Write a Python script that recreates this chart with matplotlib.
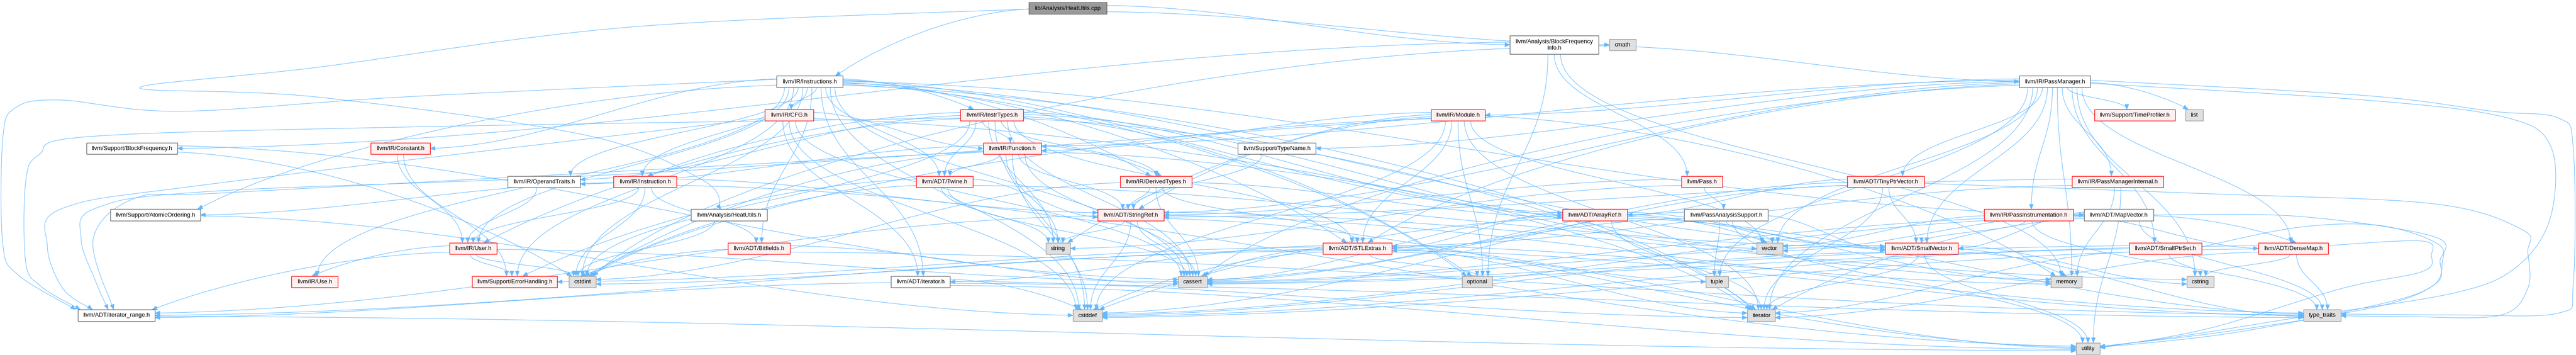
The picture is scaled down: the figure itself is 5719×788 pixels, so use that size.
import matplotlib
matplotlib.use("Agg")
import matplotlib.pyplot as plt
from matplotlib.path import Path
from matplotlib.patches import PathPatch, Rectangle, Polygon
import numpy as np

W, H = 5719, 788

# ---------------- data ----------------
node_ids = ["root", "BFI", "cmath", "Instrs", "PM", "CFG", "InstrTypes", "Module",
            "TimeProf", "list", "BlockFreq", "Constant", "Function", "TypeName",
            "OperandTraits", "Instruction", "Twine", "DerivedTypes", "Pass", "TinyPtr",
            "PMInternal", "Atomic", "HeatUtilsH", "StringRef", "ArrayRef", "PassAnalysis",
            "PassInstr", "MapVector", "User", "Bitfields", "string", "STLExtras", "vector",
            "SmallVector", "SmallPtrSet", "DenseMap", "Use", "ErrorHandling", "cstdint",
            "iteratorH", "cassert", "optional", "tuple", "memory", "cstring", "iter_range",
            "cstddef", "iterator", "type_traits", "utility"]

node_labels = ["lib/Analysis/HeatUtils.cpp", "llvm/Analysis/BlockFrequency\nInfo.h", "cmath",
               "llvm/IR/Instructions.h", "llvm/IR/PassManager.h", "llvm/IR/CFG.h",
               "llvm/IR/InstrTypes.h", "llvm/IR/Module.h", "llvm/Support/TimeProfiler.h", "list",
               "llvm/Support/BlockFrequency.h", "llvm/IR/Constant.h", "llvm/IR/Function.h",
               "llvm/Support/TypeName.h", "llvm/IR/OperandTraits.h", "llvm/IR/Instruction.h",
               "llvm/ADT/Twine.h", "llvm/IR/DerivedTypes.h", "llvm/Pass.h",
               "llvm/ADT/TinyPtrVector.h", "llvm/IR/PassManagerInternal.h",
               "llvm/Support/AtomicOrdering.h", "llvm/Analysis/HeatUtils.h", "llvm/ADT/StringRef.h",
               "llvm/ADT/ArrayRef.h", "llvm/PassAnalysisSupport.h", "llvm/IR/PassInstrumentation.h",
               "llvm/ADT/MapVector.h", "llvm/IR/User.h", "llvm/ADT/Bitfields.h", "string",
               "llvm/ADT/STLExtras.h", "vector", "llvm/ADT/SmallVector.h", "llvm/ADT/SmallPtrSet.h",
               "llvm/ADT/DenseMap.h", "llvm/IR/Use.h", "llvm/Support/ErrorHandling.h", "cstdint",
               "llvm/ADT/iterator.h", "cassert", "optional", "tuple", "memory", "cstring",
               "llvm/ADT/iterator_range.h", "cstddef", "iterator", "type_traits", "utility"]

node_kinds = ["root", "white", "sys", "white", "white", "red", "red", "red", "red", "sys",
              "white", "red", "red", "white", "white", "red", "red", "red", "red", "red",
              "red", "white", "white", "red", "red", "white", "red", "white", "red", "red", "sys",
              "red", "sys", "red", "red", "red", "red", "red", "sys", "white", "sys", "sys", "sys",
              "sys", "sys", "white", "sys", "sys", "sys", "sys"]

includes = {
    "root": ["HeatUtilsH", "BFI", "Instrs", "cmath"],
    "BFI": ["PM", "Pass", "BlockFreq", "cstdint", "memory", "optional"],
    "Instrs": ["ArrayRef", "Bitfields", "MapVector", "STLExtras", "SmallVector", "Twine",
               "iteratorH", "iter_range", "CFG", "Constant", "DerivedTypes", "InstrTypes",
               "Instruction", "OperandTraits", "Use", "User", "Atomic", "ErrorHandling",
               "cassert", "cstddef", "cstdint", "iterator", "optional"],
    "PM": ["DenseMap", "STLExtras", "SmallPtrSet", "SmallVector", "StringRef", "TinyPtr",
           "Function", "Module", "PassInstr", "PMInternal", "TimeProf", "TypeName", "cassert",
           "cstring", "iterator", "list", "memory", "tuple", "type_traits", "utility", "vector"],
    "CFG": ["iteratorH", "iter_range", "Function", "cassert", "cstddef", "iterator"],
    "InstrTypes": ["ArrayRef", "STLExtras", "Twine", "iter_range", "DerivedTypes", "Function",
                   "Instruction", "OperandTraits", "User", "cassert", "cstddef", "cstdint",
                   "iterator", "optional", "string", "vector"],
    "Module": ["STLExtras", "StringRef", "iter_range", "Function", "cstddef", "cstdint",
               "iterator", "memory", "optional", "string", "vector"],
    "BlockFreq": ["cassert", "cstdint"],
    "Constant": ["User", "ErrorHandling"],
    "Function": ["StringRef", "Twine", "iter_range", "DerivedTypes", "OperandTraits", "cassert",
                 "cstddef", "cstdint", "memory", "string"],
    "TypeName": ["StringRef"],
    "OperandTraits": ["User"],
    "Instruction": ["Bitfields", "StringRef", "User", "Atomic", "cstdint", "utility"],
    "Twine": ["SmallVector", "StringRef", "ErrorHandling", "cassert", "cstdint", "string"],
    "DerivedTypes": ["ArrayRef", "STLExtras", "StringRef", "cassert", "cstdint"],
    "Pass": ["StringRef", "PassAnalysis", "string"],
    "TinyPtr": ["ArrayRef", "SmallVector", "cassert", "cstddef", "iterator", "type_traits"],
    "PMInternal": ["STLExtras", "StringRef", "memory", "utility"],
    "Atomic": ["cstddef"],
    "HeatUtilsH": ["cstdint"],
    "StringRef": ["iter_range", "cassert", "cstddef", "cstring", "string", "type_traits", "utility"],
    "ArrayRef": ["SmallVector", "STLExtras", "cassert", "cstddef", "iterator", "memory",
                 "type_traits", "vector"],
    "PassAnalysis": ["STLExtras", "SmallVector", "cassert", "tuple", "utility", "vector"],
    "PassInstr": ["DenseMap", "SmallVector", "type_traits", "vector"],
    "MapVector": ["DenseMap", "SmallVector", "cassert", "cstddef", "iterator", "type_traits",
                  "utility", "vector"],
    "User": ["Use", "ErrorHandling", "cassert", "cstdint", "iter_range"],
    "Bitfields": ["cassert", "cstdint", "type_traits"],
    "STLExtras": ["iteratorH", "iter_range", "ErrorHandling", "cassert", "cstddef", "cstdint",
                  "iterator", "memory", "optional", "tuple", "type_traits", "utility"],
    "SmallVector": ["cassert", "cstddef", "cstring", "iterator", "memory", "type_traits", "utility"],
    "SmallPtrSet": ["cassert", "cstddef", "cstring", "iterator", "utility"],
    "DenseMap": ["cassert", "cstddef", "cstring", "iterator", "type_traits", "utility"],
    "iteratorH": ["iter_range", "cstddef", "iterator", "type_traits", "utility"],
    "iter_range": ["utility"],
}

# ---------------- layout (pixel positions) ----------------
level_y = [18, 99.5, 181, 255.5, 329.5, 403.5, 477, 551.5, 625.5, 700, 773.5]
layout = {
    "root": (0, 2284, 2457), "BFI": (1, 3352, 3549), "cmath": (1, 3573, 3632),
    "Instrs": (2, 1724, 1871), "PM": (2, 4483, 4641),
    "CFG": (3, 1698, 1806), "InstrTypes": (3, 2132, 2272), "Module": (3, 3177, 3297),
    "TimeProf": (3, 4650, 4829), "list": (3, 4852, 4891),
    "BlockFreq": (4, 192, 394), "Constant": (4, 823, 955), "Function": (4, 2183, 2312),
    "TypeName": (4, 2748, 2921),
    "OperandTraits": (5, 1127, 1288), "Instruction": (5, 1362, 1502), "Twine": (5, 2034, 2160),
    "DerivedTypes": (5, 2487, 2646), "Pass": (5, 3733, 3824), "TinyPtr": (5, 4101, 4272),
    "PMInternal": (5, 4600, 4803),
    "Atomic": (6, 245, 445), "HeatUtilsH": (6, 1534, 1703), "StringRef": (6, 2437, 2584),
    "ArrayRef": (6, 3469, 3613), "PassAnalysis": (6, 3739, 3925), "PassInstr": (6, 4405, 4603),
    "MapVector": (6, 4627, 4781),
    "User": (7, 998, 1103), "Bitfields": (7, 1616, 1754), "string": (7, 2322, 2376),
    "STLExtras": (7, 2937, 3090), "vector": (7, 3900, 3958), "SmallVector": (7, 4185, 4347),
    "SmallPtrSet": (7, 4727, 4888), "DenseMap": (7, 5014, 5169),
    "Use": (8, 647, 750), "ErrorHandling": (8, 1048, 1237), "cstdint": (8, 1263, 1323),
    "iteratorH": (8, 1978, 2109), "cassert": (8, 2616, 2680), "optional": (8, 3246, 3313),
    "tuple": (8, 3787, 3837), "memory": (8, 4553, 4622), "cstring": (8, 4855, 4915),
    "iter_range": (9, 173, 344), "cstddef": (9, 2382, 2447), "iterator": (9, 3879, 3941),
    "type_traits": (9, 5114, 5197),
    "utility": (10, 4609, 4662),
}

# explicit routes (start, waypoints..., end) for edges drawn around the graph
routes = {
    ("root", "HeatUtilsH"): [(2284, 20), (1400, 60), (700, 150), (310, 195), (700, 215),
                             (1300, 300), (1560, 400), (1600, 465)],
    ("Instrs", "iter_range"): [(1724, 176), (900, 215), (400, 247), (133, 222), (33, 240),
                               (6, 310), (6, 540), (40, 610), (168, 687)],
    ("InstrTypes", "iter_range"): [(2132, 262), (900, 282), (200, 303), (87, 343), (57, 404),
                                   (57, 581), (90, 635), (178, 687)],
    ("CFG", "iter_range"): [(1698, 262), (480, 407), (140, 462), (105, 545), (140, 641),
                            (205, 687)],
    ("Module", "iter_range"): [(3177, 262), (1500, 380), (480, 424), (213, 462), (180, 530),
                               (213, 626), (240, 687)],
    ("Function", "iter_range"): [(2183, 336), (1200, 390), (480, 429), (300, 440), (207, 530),
                                 (252, 687)],
    ("PM", "type_traits"): [(4641, 178), (5250, 212), (5533, 247), (5680, 262), (5713, 330),
                            (5713, 630), (5680, 695), (5450, 699), (5197, 697)],
    ("PM", "utility"): [(4641, 185), (5250, 222), (5560, 260), (5663, 325), (5663, 480),
                        (5590, 590), (5450, 650), (5100, 705), (4850, 745), (4662, 770)],
    ("TinyPtr", "type_traits"): [(4272, 407), (4900, 430), (5400, 452), (5600, 510),
                                 (5612, 560), (5612, 640), (5550, 700), (5350, 703), (5197, 701)],
    ("DenseMap", "utility"): [(5169, 545), (5377, 535), (5398, 567), (5377, 603),
                              (5200, 640), (4900, 730), (4662, 772)],
    ("MapVector", "utility"): [(4781, 477), (5100, 480), (5403, 525), (5417, 580), (5407, 630),
                               (5280, 680), (4950, 735), (4662, 769)],
    ("SmallPtrSet", "utility"): [(4888, 548), (5100, 505), (5280, 500), (5410, 540),
                                 (5422, 583), (5400, 635), (5280, 676), (4950, 740), (4662, 771)],
}

styles = {
    "root": ("#999999", "#666666"),
    "white": ("#ffffff", "#666666"),
    "red": ("#fff0f0", "#ff0000"),
    "sys": ("#e0e0e0", "#999999"),
}
EDGE = "#63b8ff"


def box(n):
    lvl, x0, x1 = layout[n]
    h = 41 if n == "BFI" else 25.5
    yc = level_y[lvl]
    return x0, x1, yc - h / 2, yc + h / 2


def center(n):
    x0, x1, y0, y1 = box(n)
    return (x0 + x1) / 2, (y0 + y1) / 2


edges = [(s, t) for s, ts in includes.items() for t in ts]

info = {}
for s, t in edges:
    scx, scy = center(s)
    tcx, tcy = center(t)
    adx = abs(tcx - scx)
    dyc = tcy - scy
    far = adx > 2.5 * dyc + 120
    side_end = far and adx > 5.5 * dyc
    info[(s, t)] = dict(far=far, side_end=side_end, route=(s, t) in routes)

# start points
start = {}
for s in includes:
    x0, x1, y0, y1 = box(s)
    cx, cy = center(s)
    w = x1 - x0
    outs = [t for t in includes[s] if not info[(s, t)]["route"]]
    near = sorted([t for t in outs if not info[(s, t)]["far"]], key=lambda t: center(t)[0])
    if len(near) == 1:
        t = near[0]
        px = np.clip(cx + (center(t)[0] - cx) * 0.1, x0 + 8, x1 - 8)
        start[(s, t)] = (px, y1)
    elif near:
        half = min(0.38 * w, 7 * (len(near) - 1))
        for px, t in zip(np.linspace(cx - half, cx + half, len(near)), near):
            start[(s, t)] = (px, y1)
    for sign in (-1, 1):
        fars = [t for t in outs if info[(s, t)]["far"] and np.sign(center(t)[0] - cx) == sign]
        fars.sort(key=lambda t: center(t)[1])
        k = len(fars)
        if k == 0:
            continue
        offs = np.linspace(-6, 8, k) if k > 1 else [2]
        sx = x1 if sign > 0 else x0
        for o, t in zip(offs, fars):
            start[(s, t)] = (sx, cy + o)

# end points
incoming = {}
for s, t in edges:
    if not info[(s, t)]["route"]:
        incoming.setdefault(t, []).append(s)
end = {}
for t, srcs in incoming.items():
    x0, x1, y0, y1 = box(t)
    cx, cy = center(t)
    w = x1 - x0
    top = sorted([s for s in srcs if not info[(s, t)]["side_end"]], key=lambda s: center(s)[0])
    if len(top) == 1:
        s = top[0]
        px = np.clip(cx + (center(s)[0] - cx) * 0.1, x0 + 6, x1 - 6)
        end[(s, t)] = (px, y0)
    elif top:
        half = min(0.4 * w, 6 * (len(top) - 1))
        for px, s in zip(np.linspace(cx - half, cx + half, len(top)), top):
            end[(s, t)] = (px, y0)
    for sign in (-1, 1):
        sides = [s for s in srcs if info[(s, t)]["side_end"] and np.sign(center(s)[0] - cx) == sign]
        sides.sort(key=lambda s: center(s)[1])
        k = len(sides)
        if k == 0:
            continue
        offs = np.linspace(-5, 5, k) if k > 1 else [0]
        ex = x1 if sign > 0 else x0
        for o, s in zip(offs, sides):
            end[(s, t)] = (ex, cy + o)


def catmull_path(pts):
    pts = [np.array(p, float) for p in pts]
    ext = [pts[0]] + pts + [pts[-1]]
    verts = [pts[0]]
    codes = [Path.MOVETO]
    for i in range(1, len(ext) - 2):
        p0, p1, p2, p3 = ext[i - 1], ext[i], ext[i + 1], ext[i + 2]
        c1 = p1 + (p2 - p0) / 6.0
        c2 = p2 - (p3 - p1) / 6.0
        verts += [c1, c2, p2]
        codes += [Path.CURVE4] * 3
    return Path(verts, codes), verts[-2], verts[-1]


# ---------------- drawing ----------------
fig = plt.figure(figsize=(W / 100, H / 100), dpi=100)
ax = fig.add_axes([0, 0, 1, 1])
ax.set_xlim(0, W)
ax.set_ylim(H, 0)
ax.axis("off")


def arrowhead(tail, tip):
    tip = np.asarray(tip, float)
    d = tip - np.asarray(tail, float)
    n = np.hypot(*d)
    if n < 1e-6:
        d = np.array([0.0, 1.0])
    else:
        d = d / n
    nrm = np.array([-d[1], d[0]])
    L, hw = 11, 4.5
    base = tip - d * L
    ax.add_patch(Polygon([tip, base + nrm * hw, base - nrm * hw], closed=True,
                         facecolor=EDGE, edgecolor=EDGE, lw=0.5, zorder=2))


for s, t in edges:
    inf = info[(s, t)]
    if inf["route"]:
        path, c2, p3 = catmull_path(routes[(s, t)])
        ax.add_patch(PathPatch(path, facecolor="none", edgecolor=EDGE, lw=0.75, zorder=1))
        arrowhead(c2, p3)
        continue
    p0 = np.array(start[(s, t)], float)
    p3 = np.array(end[(s, t)], float)
    dx = p3[0] - p0[0]
    dy = p3[1] - p0[1]
    sg = 1 if dx >= 0 else -1
    if not inf["far"]:
        p1 = p0 + [0, 0.45 * dy]
        p2 = p3 - [0, 0.45 * dy]
    else:
        p1 = p0 + [0.35 * dx, 0.05 * dy]
        if inf["side_end"]:
            p2 = p3 - [0.35 * dx, 0.05 * dy]
        else:
            p2 = p3 - [sg * min(abs(dx) * 0.25, 260), 0.5 * dy]
    path = Path([p0, p1, p2, p3], [Path.MOVETO, Path.CURVE4, Path.CURVE4, Path.CURVE4])
    ax.add_patch(PathPatch(path, facecolor="none", edgecolor=EDGE, lw=0.75, zorder=1))
    arrowhead(p2 if np.hypot(*(p3 - p2)) > 1e-6 else p0, p3)

for nid, lab, kind in zip(node_ids, node_labels, node_kinds):
    x0, x1, y0, y1 = box(nid)
    fc, ec = styles[kind]
    ax.add_patch(Rectangle((x0, y0), x1 - x0, y1 - y0, facecolor=fc, edgecolor=ec,
                           lw=1.0, zorder=3))
    ax.text((x0 + x1) / 2, (y0 + y1) / 2 + 0.5, lab, ha="center", va="center",
            fontsize=9.4, family=["Liberation Sans", "DejaVu Sans"], color="black",
            linespacing=1.15, zorder=4)

fig.savefig("out.png", dpi=100, facecolor="white")
